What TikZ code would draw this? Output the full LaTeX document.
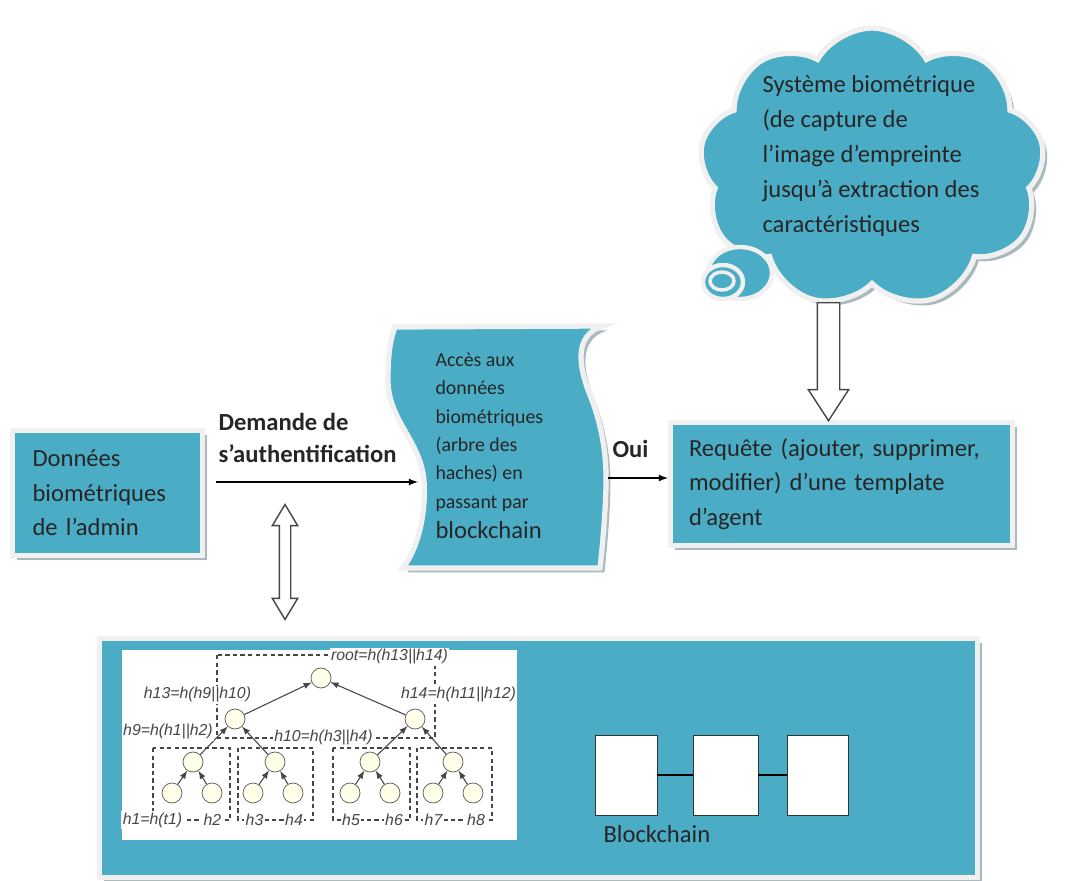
\documentclass[tikz,border=0pt]{standalone}
\usepackage{fontspec}
\setmainfont{Carlito}
\newfontfamily\treefont{Liberation Sans}
\usetikzlibrary{positioning, shapes.symbols, shapes.arrows, shadows}
\definecolor{aqua}{RGB}{75,172,198}
\definecolor{framegray}{RGB}{240,240,240}
\definecolor{shadegray}{RGB}{170,185,190}
\definecolor{cream}{RGB}{255,255,234}
\definecolor{treegray}{RGB}{70,70,70}

\begin{document}
\begin{tikzpicture}[x=0.02cm, y=-0.02cm, -latex, semithick,
  panel/.style={rectangle, fill=aqua, draw=framegray, line width=3pt,
    drop shadow={shadow xshift=2.5pt, shadow yshift=-2.5pt, fill=shadegray, opacity=1}},
  bigtxt/.style={font=\fontsize{14}{19.6}\selectfont, text=black!85, align=left},
  hollow/.style={draw=treegray, fill=white, thick, inner xsep=0pt},
  hashnode/.style={circle, draw=gray!70!black, fill=cream, thin, minimum size=0.4cm, inner sep=0pt},
  hashlbl/.style={font=\treefont\itshape\fontsize{9}{10}\selectfont, text=treegray, fill=white, inner sep=0.8pt},
  treeedge/.style={-latex, line width=0.6pt, draw=treegray},
  dashbox/.style={-, draw=treegray, dash pattern=on 2.5pt off 1.8pt, line width=0.7pt},
  block/.style={rectangle, draw=black!80, fill=white, thin, minimum height=1.6cm}]
  \useasboundingbox (0,0) rectangle (1075,881);

  % bottom panel with the hash tree and the chain
  \node[panel, minimum width=17.56cm, minimum height=4.78cm] (bottom) at (538.5,758) {};
  \node[fill=white, minimum width=7.9cm, minimum height=3.8cm, inner sep=0pt] (merkle) at (319.5,745) {};

  % boxes
  \node[panel, bigtxt, minimum width=3.8cm, minimum height=2.5cm, text width=3cm] (admin) at (107.5,493)
    {Données\\biométriques\\de l’admin};
  \node[panel, bigtxt, minimum width=6.84cm, minimum height=2.46cm, text width=6.1cm] (requete) at (841.5,484)
    {Requête (ajouter, supprimer,\\modifier) d’une template\\d’agent};

  % wave shape
  \filldraw[-, fill=aqua, draw=framegray, line width=3pt,
    drop shadow={shadow xshift=2.5pt, shadow yshift=-2.5pt, fill=shadegray, opacity=1}]
    (395,327) -- (603,326)
    .. controls (580,333) and (574,355) .. (590,395)
    .. controls (600,420) and (607,450) .. (606,487)
    .. controls (605,520) and (602,550) .. (600,568)
    -- (403,568)
    .. controls (420,545) and (426,510) .. (424,480)
    .. controls (420,440) and (388,420) .. (388,380)
    .. controls (388,355) and (390,340) .. (395,327) -- cycle;
  \node[anchor=north west, inner sep=0pt, align=left, text=black!85,
    font=\fontsize{11.3}{16.2}\selectfont] (acces) at (435,352)
    {Accès aux\\données\\biométriques\\(arbre des\\haches) en\\passant par\\[1pt]
     {\fontsize{14}{16}\selectfont blockchain}};

  % cloud
  \node[cloud, cloud puffs=9, cloud puff arc=120, aspect=1.2, fill=aqua, draw=framegray,
    line width=3pt, minimum width=6.9cm, minimum height=5.6cm,
    drop shadow={shadow xshift=2.5pt, shadow yshift=-2.5pt, fill=shadegray, opacity=1}] (cloud) at (872,168) {};
  \draw[-, fill=aqua, draw=framegray, line width=2.5pt] (740,273) ellipse [x radius=32, y radius=26];
  \draw[-, fill=aqua, draw=framegray, line width=2.5pt] (723,282) ellipse [x radius=20, y radius=17];
  \draw[-, fill=aqua, draw=framegray, line width=2pt] (722,281) ellipse [x radius=12, y radius=9];
  \node[bigtxt, anchor=north west, inner sep=0pt, font=\fontsize{14}{19.9}\selectfont] (systeme) at (762,75)
    {Système biométrique\\(de capture de\\l’image d’empreinte\\jusqu’à extraction des\\caractéristiques};

  % connectors
  \coordinate (ds) at (216,482);
  \coordinate (wl) at (418,482);
  \coordinate (wr) at (608,478);
  \coordinate (dtip) at (828.5,422);
  \draw[thick] (ds) -- (wl);
  \draw[thick] (wr) -- (wr -| requete.west);
  \node[bigtxt, anchor=north west, inner sep=0pt, font=\bfseries\fontsize{14}{18.2}\selectfont] (demande) at (218,413)
    {Demande de\\s’authentification};
  \node[bigtxt, anchor=north west, inner sep=0pt, font=\bfseries\fontsize{14}{18}\selectfont] (oui) at (612,440) {Oui};
  \node[double arrow, hollow, rotate=90, minimum height=2.3cm, inner ysep=0.1cm,
    double arrow head extend=0.14cm, double arrow tip angle=62] (link) at (285,562) {};
  \node[single arrow, hollow, rotate=-90, anchor=tip, minimum height=2.36cm, inner ysep=0.21cm,
    single arrow head extend=0.18cm, single arrow tip angle=66] (down) at (dtip) {};

  % hash tree
  \draw[dashbox] (217,655) rectangle (435,738);
  \foreach \xa/\xb in {153/230, 238/313, 333/410, 417/492}
    \draw[dashbox] (\xa,748) rectangle (\xb,820);
  \node[hashnode] (R) at (321,678) {};
  \node[hashnode] (N13) at (235,719) {};
  \node[hashnode] (N14) at (415,719) {};
  \foreach \n/\x in {9/193, 10/275, 11/370, 12/453}
    \node[hashnode] (N\n) at (\x,762) {};
  \foreach \n/\x in {1/172, 2/212, 3/253, 4/293, 5/350, 6/390, 7/433, 8/473}
    \node[hashnode] (L\n) at (\x,793) {};
  \foreach \from/\to in {L1/N9,L2/N9,L3/N10,L4/N10,L5/N11,L6/N11,L7/N12,L8/N12,N9/N13,N10/N13,N11/N14,N12/N14,N13/R,N14/R}
    \draw[treeedge] (\from) -- (\to);
  \node[hashlbl] (lroot) at (389.5,657) {root=h(h13||h14)};
  \node[hashlbl] (l13) at (197.5,695) {h13=h(h9||h10)};
  \node[hashlbl] (l14) at (458.5,695) {h14=h(h11||h12)};
  \node[hashlbl] (l9) at (168,732) {h9=h(h1||h2)};
  \node[hashlbl] (l10) at (323.5,738) {h10=h(h3||h4)};
  \foreach \x/\t [count=\i] in {152.5/h1=h(t1), 212.5/h2, 254.5/h3, 294/h4, 351/h5, 394/h6, 433.5/h7, 476/h8}
    \node[hashlbl] (h\i) at (\x,820) {\t};

  % blockchain
  \node[block, minimum width=1.24cm] (B1) at (626,775) {};
  \node[block, minimum width=1.3cm] (B2) at (725.5,775) {};
  \node[block, minimum width=1.22cm] (B3) at (817.5,775) {};
  \foreach \from/\to in {B1/B2,B2/B3}
    \draw[-] (\from) -- (\to);
  \node[bigtxt, anchor=north west, inner sep=0pt] (chain) at (603,825) {Blockchain};
\end{tikzpicture}
\end{document}
